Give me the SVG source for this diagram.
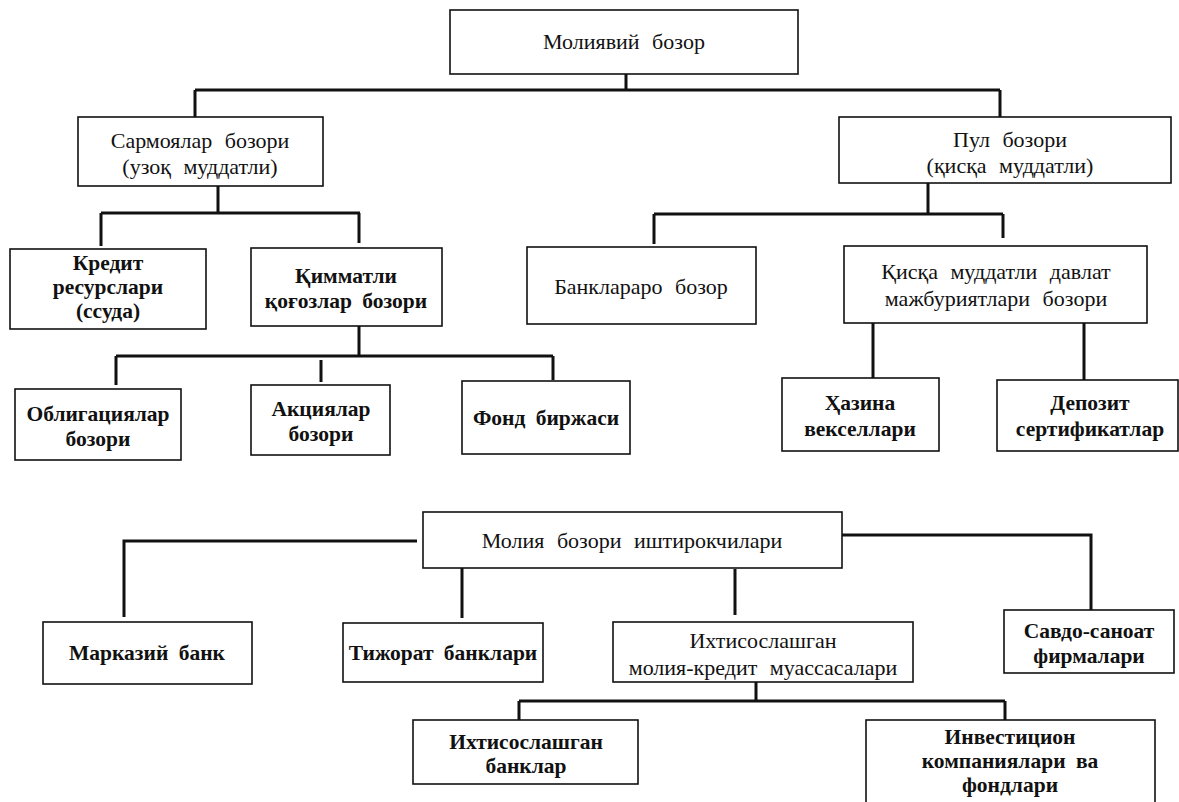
<svg xmlns="http://www.w3.org/2000/svg" width="1179" height="802" viewBox="0 0 1179 802">
<style>
.box{fill:#fff;stroke:#111;stroke-width:1.6}
.t{font-family:"Liberation Serif","DejaVu Serif",serif;font-size:22px;fill:#111;text-anchor:middle;word-spacing:7px}
.b{font-weight:bold;font-size:21.5px;word-spacing:5px}
.c{fill:none;stroke:#111;stroke-width:3}
</style>
<rect width="1179" height="802" fill="#fff"/>
<g id="connectors">
<path class="c" d="M626,74V90M195,90H1000M195,90V117M1000,90V117"/>
<path class="c" d="M218,186V213M101,213H360M101,213V246M359,213V243"/>
<path class="c" d="M359,326V356M116,356H553M116,356V385M321,360V382M553,356V380"/>
<path class="c" d="M928,183V214M654,214H1003M654,214V244M1003,214V238"/>
<path class="c" d="M873,323V380M1084,323V380"/>
<path class="c" d="M417,541H124V617M842,535H1091V610M462,568V618M735,569V615"/>
<path class="c" d="M756,682V701M519,701H1005M519,701V720M1005,701V720"/>
</g>
<g id="n1"><rect class="box" x="450" y="10" width="348" height="64"/><text class="t" x="624" y="49">Молиявий бозор</text></g>
<g id="n2"><rect class="box" x="78" y="117" width="245" height="69"/><text class="t" x="200" y="148">Сармоялар бозори</text><text class="t" x="200" y="174">(узоқ муддатли)</text></g>
<g id="n3"><rect class="box" x="839" y="117" width="332" height="66"/><text class="t" x="1010" y="147">Пул бозори</text><text class="t" x="1010" y="173">(қисқа муддатли)</text></g>
<g id="n4"><rect class="box" x="10" y="249" width="196" height="80"/><text class="t b" x="108" y="270">Кредит</text><text class="t b" x="108" y="294">ресурслари</text><text class="t b" x="108" y="318">(ссуда)</text></g>
<g id="n5"><rect class="box" x="251" y="248" width="191" height="78"/><text class="t b" x="346" y="283">Қимматли</text><text class="t b" x="346" y="308">қоғозлар бозори</text></g>
<g id="n6"><rect class="box" x="15" y="389" width="166" height="71"/><text class="t b" x="98" y="421">Облигациялар</text><text class="t b" x="98" y="446">бозори</text></g>
<g id="n7"><rect class="box" x="251" y="385" width="139" height="70"/><text class="t b" x="321" y="416">Акциялар</text><text class="t b" x="321" y="441">бозори</text></g>
<g id="n8"><rect class="box" x="462" y="381" width="168" height="73"/><text class="t b" x="546" y="425">Фонд биржаси</text></g>
<g id="n9"><rect class="box" x="527" y="247" width="229" height="77"/><text class="t" x="641" y="294">Банклараро бозор</text></g>
<g id="n10"><rect class="box" x="844" y="246" width="303" height="77"/><text class="t" x="996" y="279">Қисқа муддатли давлат</text><text class="t" x="996" y="306">мажбуриятлари бозори</text></g>
<g id="n11"><rect class="box" x="782" y="378" width="157" height="73"/><text class="t b" x="860" y="410">Ҳазина</text><text class="t b" x="860" y="436">векселлари</text></g>
<g id="n12"><rect class="box" x="997" y="380" width="181" height="71"/><text class="t b" x="1090" y="410">Депозит</text><text class="t b" x="1090" y="436">сертификатлар</text></g>
<g id="n13"><rect class="box" x="423" y="512" width="419" height="56"/><text class="t" x="632" y="548">Молия бозори иштирокчилари</text></g>
<g id="n14"><rect class="box" x="43" y="622" width="209" height="62"/><text class="t b" x="147" y="660">Марказий банк</text></g>
<g id="n15"><rect class="box" x="343" y="623" width="200" height="59"/><text class="t b" x="443" y="660">Тижорат банклари</text></g>
<g id="n16"><rect class="box" x="613" y="622" width="300" height="60"/><text class="t" x="763" y="648">Ихтисослашган</text><text class="t" x="763" y="675">молия-кредит муассасалари</text></g>
<g id="n17"><rect class="box" x="1004" y="610" width="170" height="63"/><text class="t b" x="1089" y="638">Савдо-саноат</text><text class="t b" x="1089" y="663">фирмалари</text></g>
<g id="n18"><rect class="box" x="413" y="720" width="225" height="64"/><text class="t b" x="526" y="749">Ихтисослашган</text><text class="t b" x="526" y="773">банклар</text></g>
<g id="n19"><rect class="box" x="866" y="720" width="289" height="90"/><text class="t b" x="1010" y="744">Инвестицион</text><text class="t b" x="1010" y="768">компаниялари ва</text><text class="t b" x="1010" y="792">фондлари</text></g>
</svg>
